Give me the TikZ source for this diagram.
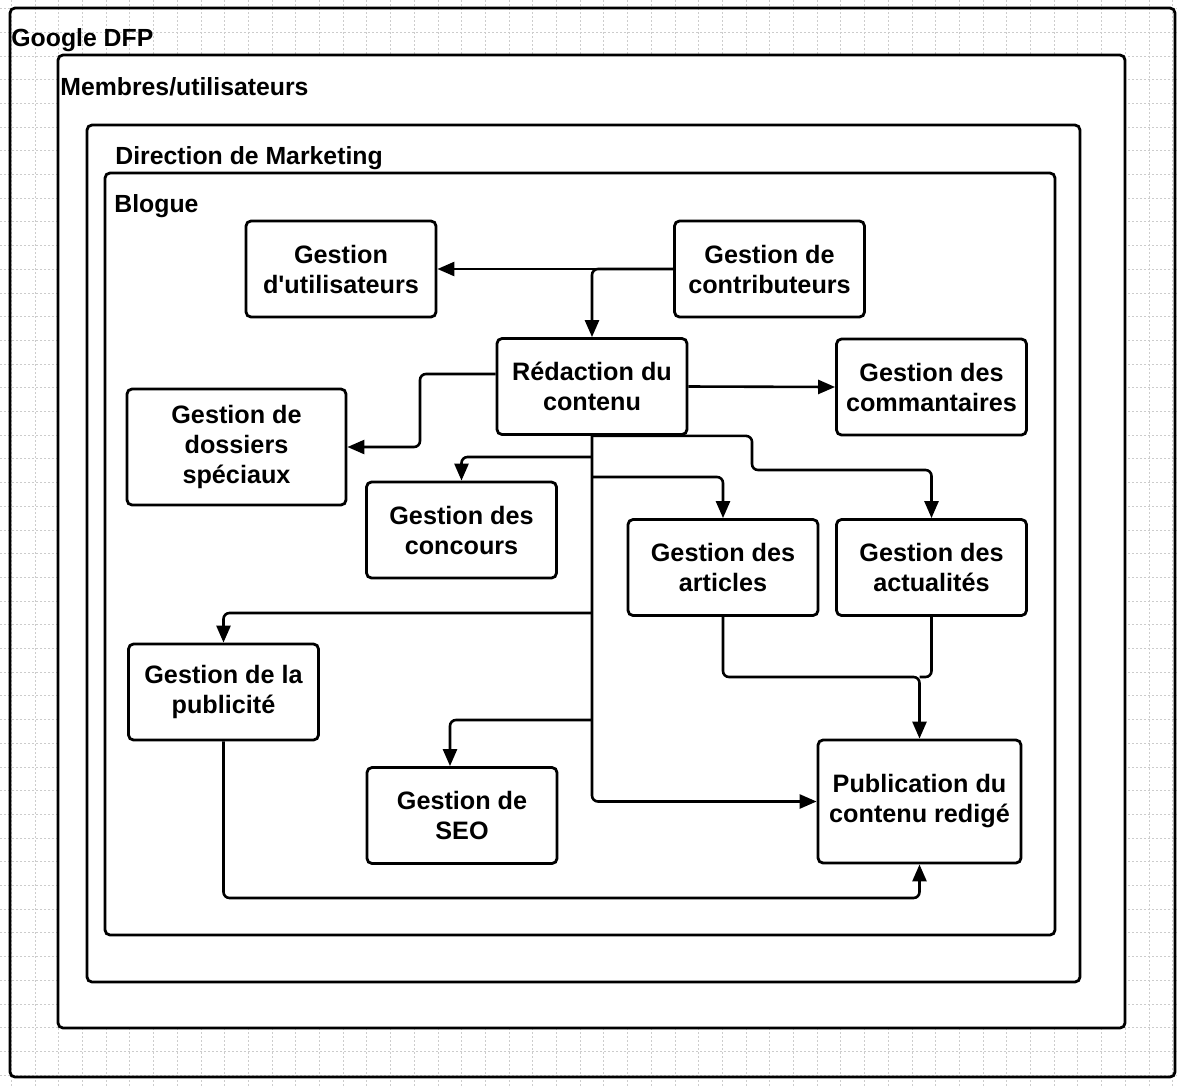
\documentclass[tikz,border=0pt]{standalone}
\usepackage{fontspec}
\setmainfont{Liberation Sans}
\usetikzlibrary{arrows.meta}
\tikzset{
  box/.style={draw, rounded corners=2.5pt, line width=1.4pt, align=center,
              minimum width=95pt, minimum height=48pt, inner sep=0pt, fill=white,
              font=\fontsize{12.6}{15}\selectfont\bfseries},
  frame/.style={draw, rounded corners=2.5pt, line width=1.4pt},
  title/.style={anchor=west, inner sep=0pt, font=\fontsize{12.4}{15}\selectfont\bfseries},
  flow/.style={-{Triangle[length=8.5pt, width=7pt]}, line width=1.3pt, rounded corners=3pt},
  link/.style={line width=1.3pt, rounded corners=3pt},
  gridline/.style={gray!40, line width=0.3pt, dash pattern=on 1pt off 1pt},
}

\begin{document}
\begin{tikzpicture}[x=0.5pt, y=-0.5pt]
  \useasboundingbox (0,0) rectangle (1177,1088);
  % graph paper
  \foreach \i in {0,...,49} {
    \draw[gridline] ({11.2+23.7*\i},0) -- ({11.2+23.7*\i},1088);
    \draw[gridline] (0,{8.4+23.7*\i}) -- (1177,{8.4+23.7*\i});
  }
  % nested frames
  \draw[frame] (10,8) rectangle (1175,1077);
  \draw[frame, fill=white] (58,55) rectangle (1125,1028);
  \draw[frame] (87,125) rectangle (1080,982);
  \draw[frame] (105,173) rectangle (1055,935);
  \node[title] (dfp) at (11,40) {Google DFP};
  \node[title] (membres) at (60,87) {Membres/utilisateurs};
  \node[title] (direction) at (115,158) {Direction de Marketing};
  \node[title] (blogue) at (114,206) {Blogue};

  % activities
  \node[box] (util) at (341,269) {Gestion\\d\textquotesingle utilisateurs};
  \node[box] (contrib) at (769.5,269) {Gestion de\\contributeurs};
  \node[box] (redac) at (592,386.5) {Rédaction du\\contenu};
  \node[box] (comm) at (931.5,387) {Gestion des\\commantaires};
  \node[box, minimum width=109.5pt, minimum height=58pt] (doss) at (236.5,447) {Gestion de\\dossiers\\spéciaux};
  \node[box] (conc) at (461.5,530) {Gestion des\\concours};
  \node[box] (art) at (723,567.5) {Gestion des\\articles};
  \node[box] (actu) at (931.5,567.5) {Gestion des\\actualités};
  \node[box] (pubad) at (223.5,692) {Gestion de la\\publicité};
  \node[box] (seo) at (462,815.5) {Gestion de\\SEO};
  \node[box, minimum width=101.5pt, minimum height=61.5pt] (publ) at (919.5,801.5) {Publication du\\contenu redigé};
  \coordinate (join) at (919.5,677);

  % connectors
  \draw[flow] (contrib.west) -- (util.east);
  \draw[flow] (contrib.west) -| (redac.north);
  \draw[flow] ([yshift=6.25pt]redac.west) -- (420,374) |- (doss.east);
  \draw[flow] (redac.east) -- (comm.west);
  \draw[flow] (redac.south) |- (publ.west);
  \draw[flow] (592,457) -| (conc.north);
  \draw[flow] (592,477) -| (art.north);
  \draw[flow] (redac.south) -| (752,470) -| (actu.north);
  \draw[flow] (592,613) -| (pubad.north);
  \draw[flow] (592,720) -| ([xshift=-6pt]seo.north);
  \draw[flow] (art.south) |- (join) -- (publ.north);
  \draw[link] (actu.south) |- (join);
  \draw[flow] (pubad.south) |- (919.5,898) -- (publ.south);
\end{tikzpicture}
\end{document}
